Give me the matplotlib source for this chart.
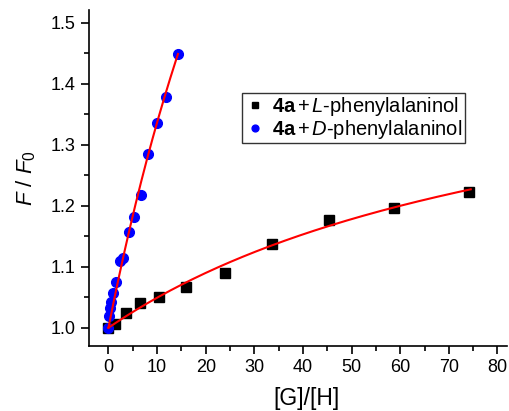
import numpy as np
import matplotlib
matplotlib.use("Agg")
import matplotlib.pyplot as plt
from matplotlib.ticker import MultipleLocator, FormatStrFormatter

plt.rcParams['font.family'] = ['Liberation Sans', 'DejaVu Sans']
plt.rcParams['mathtext.fontset'] = 'custom'
plt.rcParams['mathtext.rm'] = 'Liberation Sans'
plt.rcParams['mathtext.it'] = 'Liberation Sans:italic'
plt.rcParams['mathtext.bf'] = 'Liberation Sans:bold'

# L-phenylalaninol data
xL = [0, 1.4, 3.6, 6.4, 10.4, 16.0, 23.9, 33.6, 45.3, 58.8, 74.2]
yL = [1.000, 1.006, 1.025, 1.040, 1.051, 1.067, 1.090, 1.137, 1.177, 1.196, 1.223]
# D-phenylalaninol data
xD = [0, 0.1, 0.3, 0.55, 0.9, 1.65, 2.3, 3.0, 4.2, 5.3, 6.6, 8.1, 9.9, 11.9, 14.3]
yD = [1.000, 1.019, 1.032, 1.043, 1.057, 1.075, 1.110, 1.114, 1.157, 1.181, 1.218, 1.284, 1.336, 1.378, 1.449]

# fit parameters (1:1 binding-type curves)
fitL = dict(A=0.515, K=0.01057, xmax=74.5)
fitD = dict(A=2.01, K=0.0201, xmax=14.3)

def curve(p, n=200):
    x = np.linspace(0, p['xmax'], n)
    return x, 1 + p['A'] * p['K'] * x / (1 + p['K'] * x)

fig = plt.figure(figsize=(5.10, 4.11), dpi=100)
ax = fig.add_axes([0.1745, 0.158, 0.82, 0.818])

ax.plot(xL, yL, 's', color='black', markersize=7, zorder=3,
        label=r'$\mathbf{4a}\,{+}\,\mathit{L}$-phenylalaninol')
ax.plot(xD, yD, 'o', color='#0000ff', markersize=7, zorder=3,
        label=r'$\mathbf{4a}\,{+}\,\mathit{D}$-phenylalaninol')
x1, y1 = curve(fitL)
ax.plot(x1, y1, '-', color='red', lw=1.5, zorder=4)
x2, y2 = curve(fitD)
ax.plot(x2, y2, '-', color='red', lw=1.5, zorder=4)

ax.set_xlim(-4, 82)
ax.set_ylim(0.97, 1.521)
ax.xaxis.set_major_locator(MultipleLocator(10))
ax.xaxis.set_minor_locator(MultipleLocator(5))
ax.yaxis.set_major_locator(MultipleLocator(0.1))
ax.yaxis.set_minor_locator(MultipleLocator(0.05))
ax.yaxis.set_major_formatter(FormatStrFormatter('%.1f'))
ax.spines['top'].set_visible(False)
ax.spines['right'].set_visible(False)
for s in ['left', 'bottom']:
    ax.spines[s].set_linewidth(1.2)
ax.tick_params(which='major', direction='out', length=6, width=1.2, labelsize=13)
ax.tick_params(which='minor', direction='out', length=3.5, width=1.2)

ax.set_xlabel('[G]/[H]', fontsize=16.5)
ax.xaxis.set_label_coords(0.519, -0.122)
ax.set_ylabel(r'$\mathit{F}\ /\ \mathit{F}_0$', fontsize=16, labelpad=9)

leg = ax.legend(loc='upper left', bbox_to_anchor=(0.366, 0.753), fontsize=14.5,
                frameon=True, fancybox=False, edgecolor='black',
                handletextpad=0.3, handlelength=1.1, borderpad=0.1,
                labelspacing=0.0, markerscale=0.7, borderaxespad=0)
leg.get_frame().set_linewidth(1.0)

fig.savefig('out.png', dpi=100)
